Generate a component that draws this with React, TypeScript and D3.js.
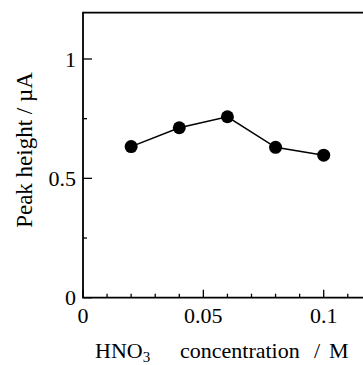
import React from "react";
import * as d3 from "d3";

const concentrations = [0.02, 0.04, 0.06, 0.08, 0.1];
const peakHeights = [0.633, 0.712, 0.758, 0.63, 0.597];
const xMajorTicks = [0, 0.05, 0.1];
const xTickLabels = ["0", "0.05", "0.1"];
const xMinorTicks = [0.01, 0.02, 0.03, 0.04, 0.06, 0.07, 0.08, 0.09, 0.11];
const yMajorTicks = [0, 0.5, 1];
const yTickLabels = ["0", "0.5", "1"];
const yMinorTicks = [0.25, 0.75];

export default function App() {
  const W = 363, H = 365;
  const x = d3.scaleLinear().domain([0, 0.1]).range([83, 323.7]);
  const y = d3.scaleLinear().domain([0, 1]).range([297.7, 59]);
  const xMax = 0.12, yMax = 1.194;
  const font = "'Liberation Serif', 'Times New Roman', serif";
  const line = d3.line<number>().x((_, i) => x(concentrations[i])).y((d) => y(d));
  return (
    <svg width={W} height={H} style={{ position: "absolute", left: 0, top: 0, background: "#fff" }}>
      <rect x={0} y={0} width={W} height={H} fill="#fff" />
      <path
        d={`M${x(xMax)},${y(yMax)}H${x(0)}V${y(0)}H${x(xMax)}`}
        fill="none" stroke="#000" strokeWidth={1.8}
      />
      {xMajorTicks.map((t) => (
        <line key={"xM" + t} x1={x(t)} x2={x(t)} y1={y(0)} y2={y(0) - 8} stroke="#000" strokeWidth={1.3} />
      ))}
      {xMinorTicks.map((t) => (
        <line key={"xm" + t} x1={x(t)} x2={x(t)} y1={y(0)} y2={y(0) - 4} stroke="#000" strokeWidth={1.3} />
      ))}
      {yMajorTicks.map((t) => (
        <line key={"yM" + t} x1={x(0)} x2={x(0) + 9} y1={y(t)} y2={y(t)} stroke="#000" strokeWidth={1.3} />
      ))}
      {yMinorTicks.map((t) => (
        <line key={"ym" + t} x1={x(0)} x2={x(0) + 4} y1={y(t)} y2={y(t)} stroke="#000" strokeWidth={1.3} />
      ))}
      {xMajorTicks.map((t, i) => (
        <text key={"xl" + t} x={x(t)} y={323} textAnchor="middle" fontFamily={font} fontSize={22}>
          {xTickLabels[i]}
        </text>
      ))}
      {yMajorTicks.map((t, i) => (
        <text key={"yl" + t} x={76} y={y(t) + 7.5} textAnchor="end" fontFamily={font} fontSize={22}>
          {yTickLabels[i]}
        </text>
      ))}
      <path d={line(peakHeights) || ""} fill="none" stroke="#000" strokeWidth={1.5} />
      {peakHeights.map((v, i) => (
        <circle key={"p" + i} cx={x(concentrations[i])} cy={y(v)} r={6.5} fill="#000" />
      ))}
      <text x={32} y={150} transform="rotate(-90 32 150)" textAnchor="middle" fontFamily={font} fontSize={23}>
        Peak height / µA
      </text>
      <text x={95} y={358} fontFamily={font} fontSize={22}>
        HNO<tspan fontSize={15} dy={4}>3</tspan>
      </text>
      <text x={180} y={358} fontFamily={font} fontSize={22}>concentration</text>
      <text x={314} y={358} fontFamily={font} fontSize={22}>/</text>
      <text x={329} y={358} fontFamily={font} fontSize={22}>M</text>
    </svg>
  );
}
